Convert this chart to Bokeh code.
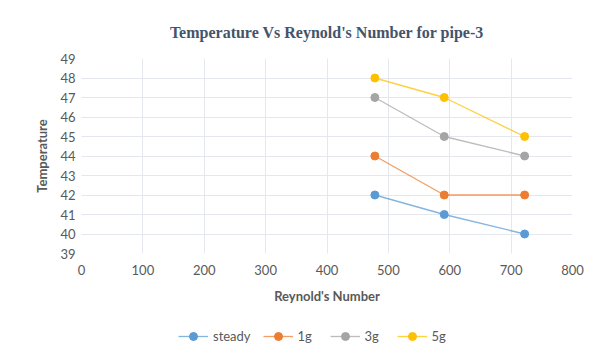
from bokeh.plotting import figure
from bokeh.layouts import column
from bokeh.models import Range1d, Legend, LegendItem, FixedTicker, Title
from bokeh.embed import file_html
from bokeh.resources import INLINE

reynolds = [478, 591, 722]
steady = [42, 41, 40]
g1 = [44, 42, 42]
g3 = [47, 45, 44]
g5 = [48, 47, 45]
series_names = ["steady", "1g", "3g", "5g"]
series_values = [steady, g1, g3, g5]
colors = ["#5B9BD5", "#ED7D31", "#A5A5A5", "#FFC000"]
x_ticks = [0, 100, 200, 300, 400, 500, 600, 700, 800]
y_ticks = [39, 40, 41, 42, 43, 44, 45, 46, 47, 48, 49]
title_text = "Temperature Vs Reynold's Number for pipe-3"

p = figure(width=600, height=310, output_backend="svg", toolbar_location=None,
           x_range=Range1d(0, 800), y_range=Range1d(39, 49), title=title_text,
           min_border_left=81, min_border_right=28, min_border_top=58, min_border_bottom=57)

p.title.align = "center"
p.title.text_font = "Liberation Serif"
p.title.text_font_size = "16px"
p.title.text_font_style = "bold"
p.title.text_color = "#44546A"
p.title.standoff = 0
# spacer between title and plot area
p.add_layout(Title(text=" ", text_font_size="14px", standoff=0), "above")

p.outline_line_color = None
p.background_fill_color = "white"
p.border_fill_color = "white"

for ax in (p.xaxis[0], p.yaxis[0]):
    ax.axis_line_color = None
    ax.major_tick_line_color = None
    ax.minor_tick_line_color = None
    ax.major_tick_out = 0
    ax.minor_tick_out = 0
    ax.major_label_text_font = "Lato"
    ax.major_label_text_font_size = "13px"
    ax.major_label_text_color = "#595959"
    ax.axis_label_text_font = "Lato"
    ax.axis_label_text_font_size = "13px"
    ax.axis_label_text_font_style = "bold"
    ax.axis_label_text_color = "#595959"

p.xaxis.ticker = FixedTicker(ticks=x_ticks)
p.yaxis.ticker = FixedTicker(ticks=y_ticks)
p.xaxis.axis_label = "Reynold's Number"
p.yaxis.axis_label = "Temperature"
p.xaxis.major_label_standoff = 11
p.yaxis.major_label_standoff = 6
p.xaxis.axis_label_standoff = 10
p.yaxis.axis_label_standoff = 7

p.xgrid.grid_line_color = "#E4E8EE"
p.ygrid.grid_line_color = "#E4E8EE"

# legend strip: same series, drawn outside its visible range so only the legend shows
q = figure(width=600, height=47, output_backend="svg", toolbar_location=None,
           x_range=Range1d(0, 1), y_range=Range1d(0, 1),
           x_axis_type=None, y_axis_type=None,
           min_border_left=0, min_border_right=0, min_border_top=0, min_border_bottom=0)
q.outline_line_color = None
q.xgrid.visible = False
q.ygrid.visible = False

items = []
for name, vals, c in zip(series_names, series_values, colors):
    p.line(reynolds, vals, line_color=c, line_width=1.3, line_alpha=0.75)
    p.scatter(reynolds, vals, size=8, fill_color=c, line_color=c, marker="circle")
    r1 = q.line(reynolds, vals, line_color=c, line_width=1.3, line_alpha=0.75)
    r2 = q.scatter(reynolds, vals, size=8, fill_color=c, line_color=c, marker="circle")
    items.append(LegendItem(label=name, renderers=[r1, r2]))

legend = Legend(items=items, orientation="horizontal", location=(97, 11),
                label_text_font="Lato", label_text_font_size="13px",
                label_text_color="#595959", glyph_width=30, spacing=12,
                label_standoff=5, border_line_color=None, background_fill_alpha=0,
                margin=0, padding=5)
q.add_layout(legend, "center")

layout = column(p, q, spacing=0)
open("out.html", "w").write(file_html(layout, INLINE))
